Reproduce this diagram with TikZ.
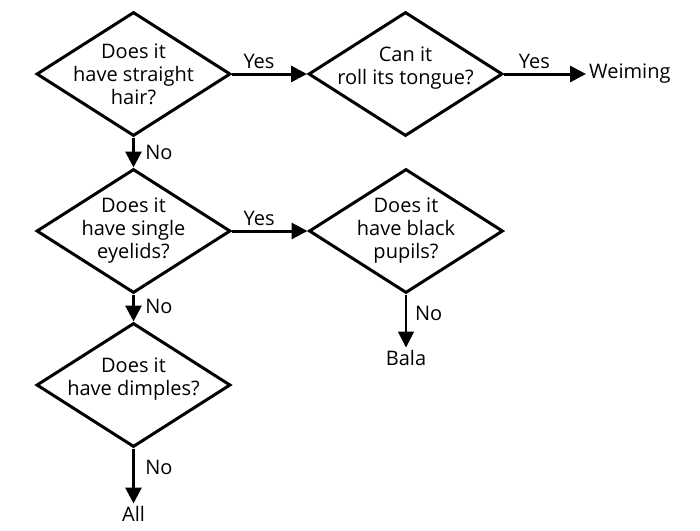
\documentclass[tikz,border=0pt]{standalone}
\usepackage{fontspec}
\setmainfont{Open Sans}
\usetikzlibrary{shapes.geometric,arrows.meta,positioning}
\tikzset{
  question/.style={diamond,draw,line width=3pt,minimum width=194pt,minimum height=124pt,
    inner sep=-30pt,align=center,font=\fontsize{20}{23}\selectfont},
  twoline/.style={text depth=16pt},
  answer/.style={inner sep=3pt,font=\fontsize{20}{23}\selectfont},
  tag/.style={font=\fontsize{20}{23}\selectfont},
  flow/.style={line width=3pt,-{Triangle[length=16pt,width=16pt]}},
  thinflow/.style={flow,line width=1.5pt}
}
\begin{document}
\begin{tikzpicture}[x=1pt,y=1pt]
            \useasboundingbox (0,0) rectangle (700,-530);
            \node[question] (hair) at (133.5,-74){Does it\\have straight\\hair?};
            \node[question,twoline] (tongue) at (405.5,-74){Can it\\roll its tongue?};
            \node[question] (eyelids) at (133.5,-231){Does it\\have single\\eyelids?};
            \node[question] (pupils) at (406,-231){Does it\\have black\\pupils?};
            \node[question,twoline] (dimples) at (133.5,-385){Does it\\have dimples?};

            \node[answer,right=82pt of tongue] (weiming){Weiming};
            \node[answer,below=53pt of pupils] (bala){Bala};
            \node[answer,below=55pt of dimples] (all){All};

            \draw[flow] (hair) -- node[tag,above,pos=0.36]{Yes} (tongue);
            \draw[flow] (tongue) -- node[tag,above,pos=0.37]{Yes} (weiming);
            \draw[flow] (eyelids) -- node[tag,above,pos=0.36]{Yes} (pupils);

            \draw[flow] (hair) -- node[tag,right=7pt,pos=0.5]{No} (eyelids);
            \draw[flow] (eyelids) -- node[tag,right=7pt,pos=0.45]{No} (dimples);
            \draw[flow] (dimples) -- node[tag,right=7pt,pos=0.35]{No} (all);
            \draw[thinflow] (pupils) -- node[tag,right=5pt,pos=0.36]{No} (bala);
\end{tikzpicture}
\end{document}
